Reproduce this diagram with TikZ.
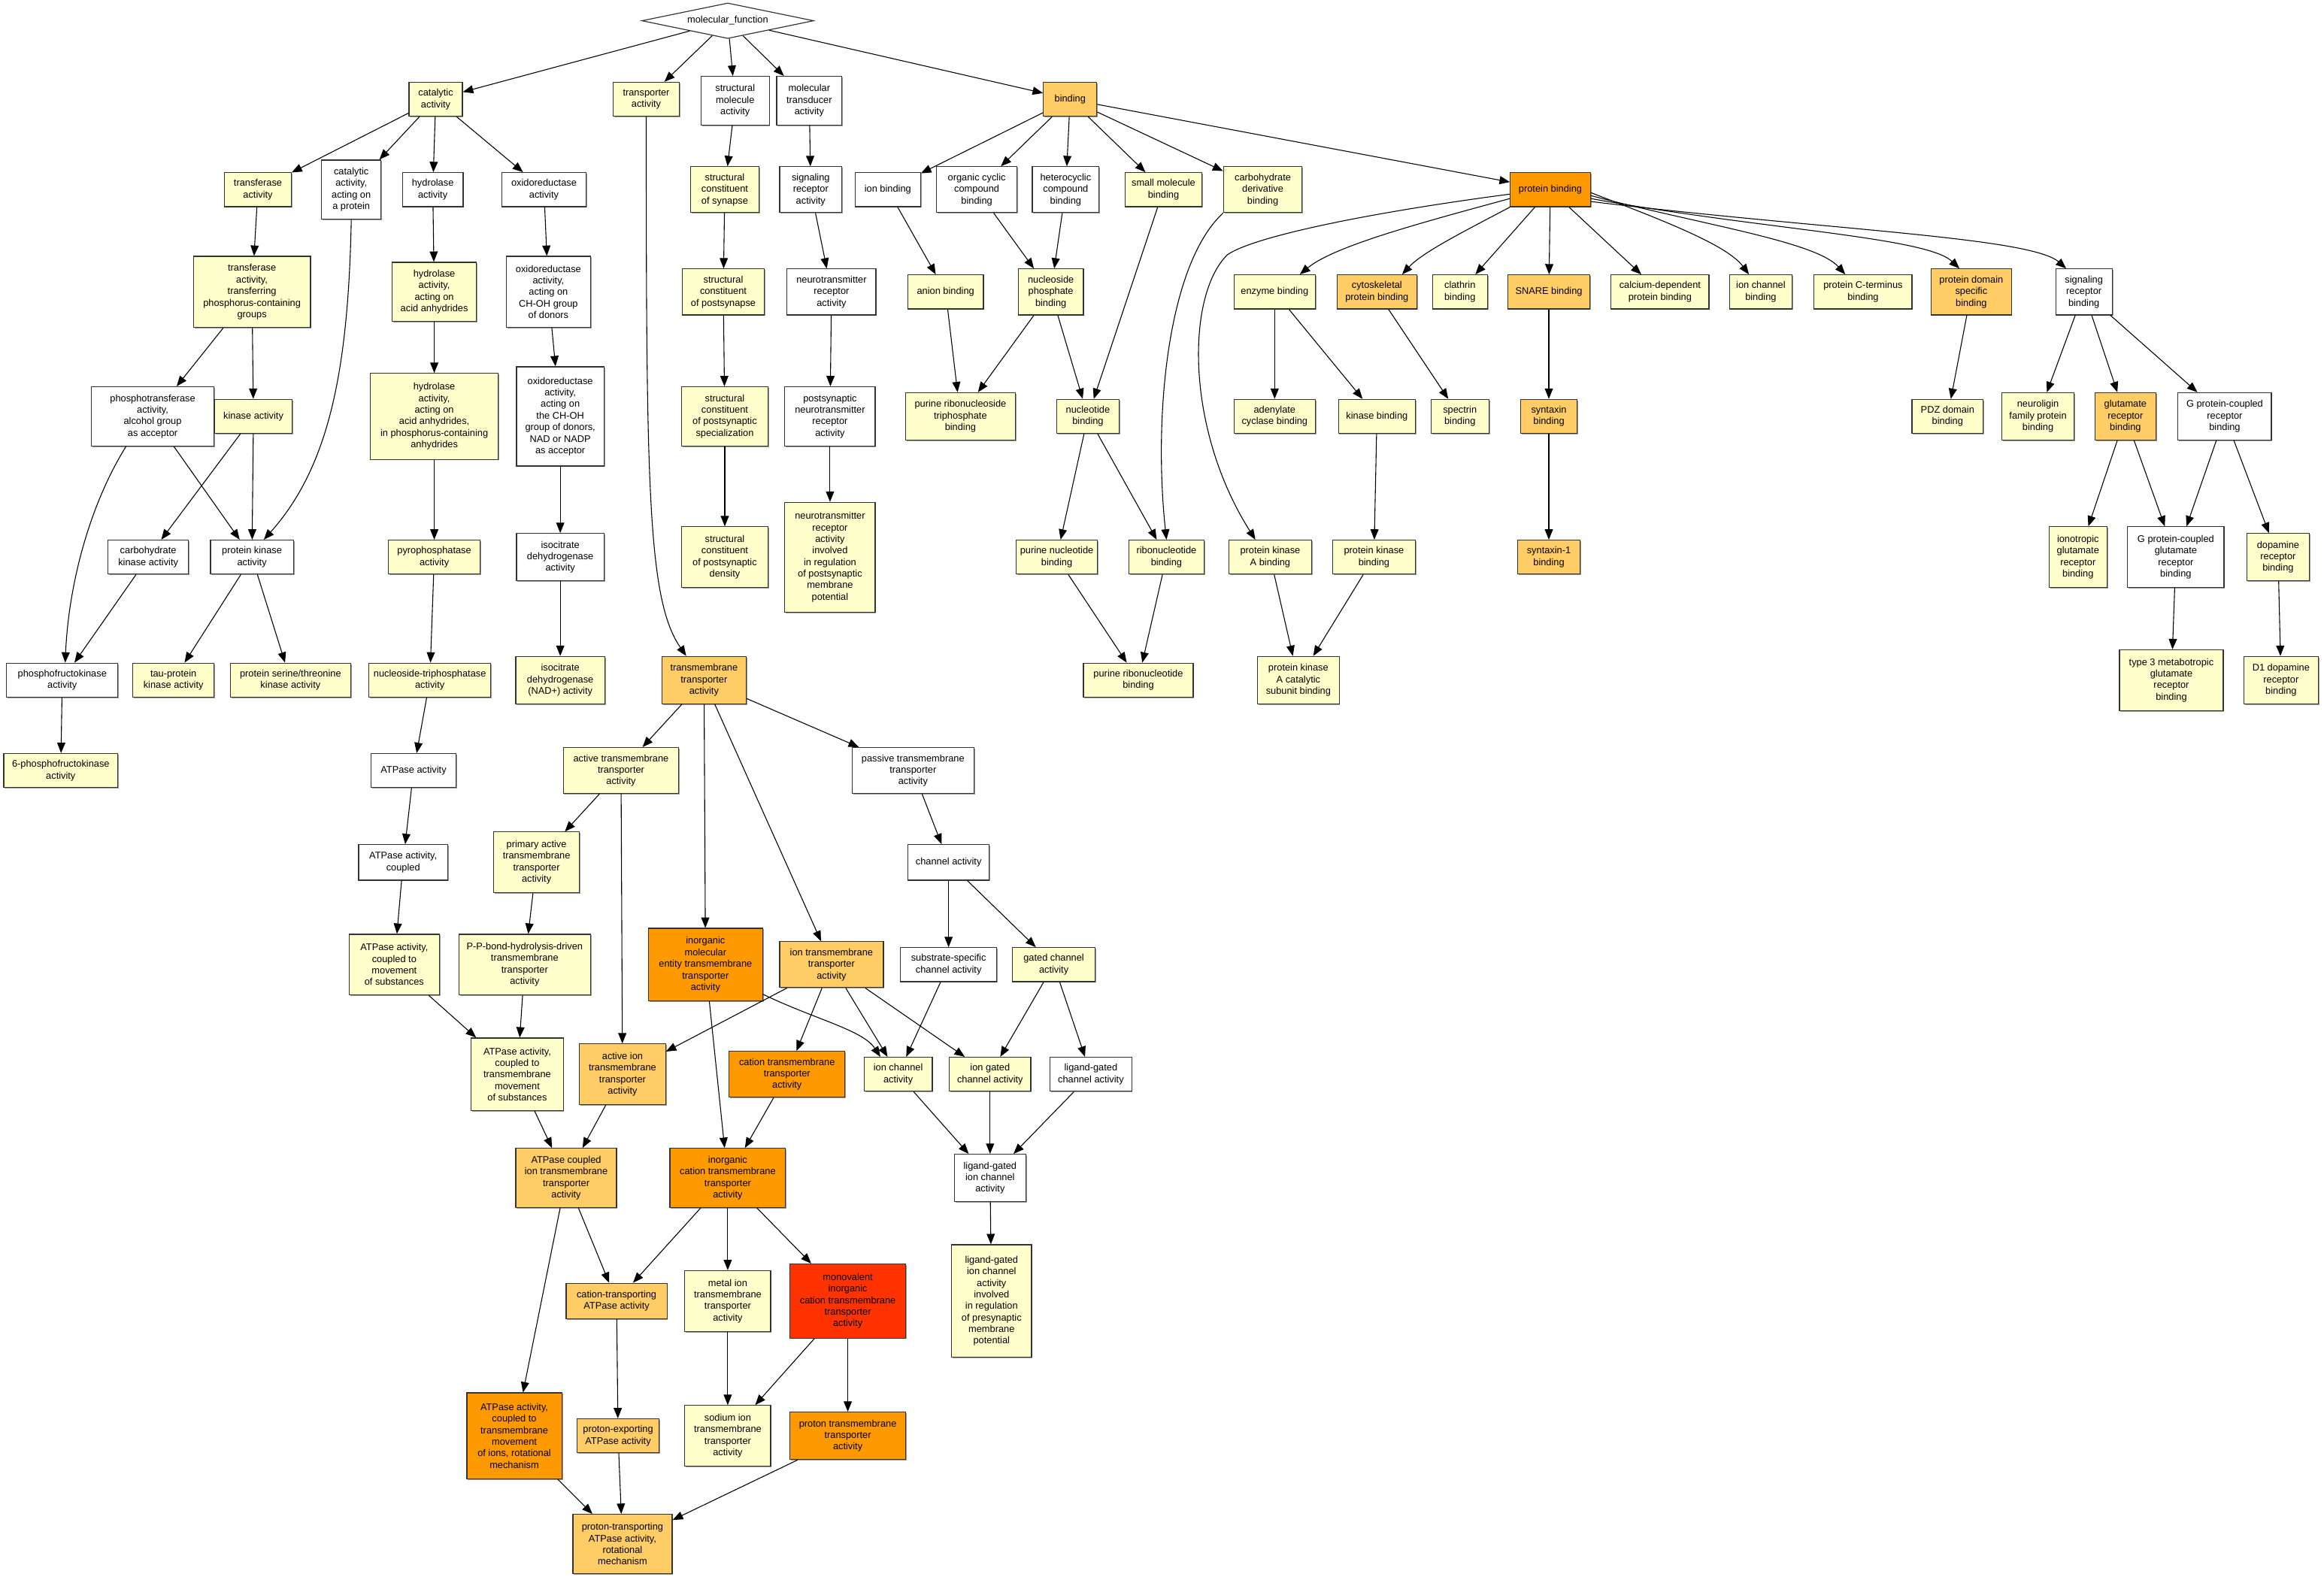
\documentclass[tikz,border=0pt]{standalone}
\usepackage{fontspec}
\setmainfont{Liberation Sans}
\usetikzlibrary{arrows.meta,shapes.geometric,shadows}
\definecolor{cY}{HTML}{FFFFCC}
\definecolor{cO}{HTML}{FFCC66}
\definecolor{cD}{HTML}{FF9900}
\definecolor{cR}{HTML}{FF3300}
\tikzset{
 gobox/.style={draw=black!80, line width=0.6pt, align=center, inner sep=1pt, rectangle, font=\fontsize{6.5}{7.8}\selectfont,
   drop shadow={shadow xshift=0.7pt, shadow yshift=-0.7pt, fill=black!40, opacity=1}},
 gW/.style={gobox, fill=white},
 gY/.style={gobox, fill=cY},
 gO/.style={gobox, fill=cO},
 gD/.style={gobox, fill=cD},
 gR/.style={gobox, fill=cR},
 edge/.style={-{Triangle[length=7pt,width=5.5pt]}, line width=0.55pt, draw=black},
}
\newcommand\gon[7]{\node[#2,minimum width=#5pt,minimum height=#6pt] (#1) at (#3,#4) {#7};}
\begin{document}
\begin{tikzpicture}[x=1pt,y=-1pt]
\useasboundingbox[fill=white] (0,0) rectangle (1568,1066);
\node[draw=black!80, line width=0.6pt, shape=diamond, aspect=4.8, minimum width=116pt, minimum height=24pt, inner sep=0pt, fill=white, font=\fontsize{6.5}{7.8}\selectfont] (mf) at (491,14) {molecular\_function};
% row 1
\gon{cat}{gY}{294}{67}{36}{23}{catalytic\\activity}
\gon{tra}{gY}{436}{67}{45}{23}{transporter\\activity}
\gon{smo}{gW}{496}{68}{46}{33}{structural\\molecule\\activity}
\gon{mtd}{gW}{546}{68}{44}{33}{molecular\\transducer\\activity}
\gon{bnd}{gO}{722}{67}{36}{23}{binding}
% row 2
\gon{trf}{gY}{174}{128}{45}{23}{transferase\\activity}
\gon{cap}{gW}{237}{128}{40}{40}{catalytic\\activity,\\acting on\\a protein}
\gon{hyd}{gW}{292}{128}{41}{23}{hydrolase\\activity}
\gon{oxr}{gW}{367}{128}{57}{23}{oxidoreductase\\activity}
\gon{scs}{gY}{489}{128}{46}{31}{structural\\constituent\\of synapse}
\gon{sra}{gW}{547}{128}{42}{31}{signaling\\receptor\\activity}
\gon{ionb}{gW}{599}{128}{44}{23}{ion binding}
\gon{occ}{gW}{659}{128}{54}{31}{organic cyclic\\compound\\binding}
\gon{hcc}{gW}{719}{128}{45}{31}{heterocyclic\\compound\\binding}
\gon{smb}{gY}{785}{128}{52}{23}{small molecule\\binding}
\gon{cdb}{gY}{852}{128}{53}{31}{carbohydrate\\derivative\\binding}
\gon{pb}{gD}{1046}{128}{54}{23}{protein binding}
% row 3
\gon{tpg}{gY}{170}{197}{79}{48}{transferase\\activity,\\transferring\\phosphorus-containing\\groups}
\gon{haa}{gY}{293}{197}{57}{40}{hydrolase\\activity,\\acting on\\acid anhydrides}
\gon{och}{gW}{370}{197}{57}{48}{oxidoreductase\\activity,\\acting on\\CH-OH group\\of donors}
\gon{scp}{gY}{488}{197}{55}{31}{structural\\constituent\\of postsynapse}
\gon{ntr}{gW}{561}{197}{60}{31}{neurotransmitter\\receptor\\activity}
\gon{anb}{gY}{638}{197}{51}{23}{anion binding}
\gon{npb}{gY}{709}{197}{44}{31}{nucleoside\\phosphate\\binding}
\gon{enz}{gY}{860}{197}{55}{23}{enzyme binding}
\gon{cyt}{gO}{929}{197}{54}{23}{cytoskeletal\\protein binding}
\gon{clb}{gY}{985}{197}{37}{23}{clathrin\\binding}
\gon{snb}{gO}{1045}{197}{55}{23}{SNARE binding}
\gon{cdp}{gY}{1120}{197}{66}{23}{calcium-dependent\\protein binding}
\gon{icb}{gY}{1188}{197}{42}{23}{ion channel\\binding}
\gon{pct}{gY}{1257}{197}{66}{23}{protein C-terminus\\binding}
\gon{pds}{gO}{1330}{197}{54}{31}{protein domain\\specific\\binding}
\gon{srb}{gW}{1406}{197}{38}{31}{signaling\\receptor\\binding}
% row 4
\gon{pta}{gW}{103}{281}{83}{40}{phosphotransferase\\activity,\\alcohol group\\as acceptor}
\gon{kin}{gY}{171}{281}{52}{23}{kinase activity}
\gon{hpc}{gY}{293}{281}{86}{58}{hydrolase\\activity,\\acting on\\acid anhydrides,\\in phosphorus-containing\\anhydrides}
\gon{ona}{gW}{378}{281}{59}{67}{oxidoreductase\\activity,\\acting on\\the CH-OH\\group of donors,\\NAD or NADP\\as acceptor}
\gon{sps}{gY}{489}{281}{58}{40}{structural\\constituent\\of postsynaptic\\specialization}
\gon{pnr}{gW}{560}{281}{61}{40}{postsynaptic\\neurotransmitter\\receptor\\activity}
\gon{prt}{gY}{648}{281}{74}{32}{purine ribonucleoside\\triphosphate\\binding}
\gon{nub}{gY}{734}{281}{42}{23}{nucleotide\\binding}
\gon{acb}{gY}{860}{281}{55}{23}{adenylate\\cyclase binding}
\gon{kib}{gY}{929}{281}{52}{23}{kinase binding}
\gon{spb}{gY}{985}{281}{39}{23}{spectrin\\binding}
\gon{syb}{gO}{1045}{281}{38}{23}{syntaxin\\binding}
\gon{pdz}{gY}{1314}{281}{48}{23}{PDZ domain\\binding}
\gon{nfp}{gY}{1375}{281}{49}{32}{neuroligin\\family protein\\binding}
\gon{grb}{gO}{1434}{281}{41}{32}{glutamate\\receptor\\binding}
\gon{gpr}{gW}{1501}{281}{63}{32}{G protein-coupled\\receptor\\binding}
% row 5
\gon{ckn}{gW}{100}{376}{54}{23}{carbohydrate\\kinase activity}
\gon{pkn}{gW}{170}{376}{56}{23}{protein kinase\\activity}
\gon{pyr}{gY}{293}{376}{62}{23}{pyrophosphatase\\activity}
\gon{idh}{gW}{378}{376}{59}{32}{isocitrate\\dehydrogenase\\activity}
\gon{spd}{gY}{489}{376}{58}{41}{structural\\constituent\\of postsynaptic\\density}
\gon{nti}{gY}{560}{376}{61}{74}{neurotransmitter\\receptor\\activity\\involved\\in regulation\\of postsynaptic\\membrane\\potential}
\gon{pnb}{gY}{713}{376}{55}{23}{purine nucleotide\\binding}
\gon{rnb}{gY}{787}{376}{51}{23}{ribonucleotide\\binding}
\gon{pka}{gY}{857}{376}{56}{23}{protein kinase\\A binding}
\gon{pkb}{gY}{927}{376}{56}{23}{protein kinase\\binding}
\gon{sob}{gO}{1045}{376}{42}{23}{syntaxin-1\\binding}
\gon{igr}{gY}{1402}{376}{39}{41}{ionotropic\\glutamate\\receptor\\binding}
\gon{gpg}{gW}{1468}{376}{65}{41}{G protein-coupled\\glutamate\\receptor\\binding}
\gon{drb}{gY}{1537}{376}{42}{32}{dopamine\\receptor\\binding}
% row 6
\gon{pfk}{gW}{42}{459}{75}{23}{phosphofructokinase\\activity}
\gon{tau}{gY}{117}{459}{55}{23}{tau-protein\\kinase activity}
\gon{pst}{gY}{196}{459}{81}{23}{protein serine/threonine\\kinase activity}
\gon{ntp}{gY}{290}{459}{82}{23}{nucleoside-triphosphatase\\activity}
\gon{idn}{gY}{378}{459}{60}{32}{isocitrate\\dehydrogenase\\(NAD+) activity}
\gon{tmt}{gO}{475}{459}{57}{32}{transmembrane\\transporter\\activity}
\gon{prb}{gY}{768}{459}{74}{23}{purine ribonucleotide\\binding}
\gon{pkc}{gY}{876}{459}{55}{32}{protein kinase\\A catalytic\\subunit binding}
\gon{tmg}{gY}{1465}{459}{70}{41}{type 3 metabotropic\\glutamate\\receptor\\binding}
\gon{dod}{gY}{1539}{459}{50}{32}{D1 dopamine\\receptor\\binding}
% row 7
\gon{spf}{gY}{41}{520}{77}{23}{6-phosphofructokinase\\activity}
\gon{atp}{gW}{279}{520}{57}{23}{ATPase activity}
\gon{att}{gY}{419}{520}{78}{31}{active transmembrane\\transporter\\activity}
\gon{ptt}{gW}{616}{520}{82}{31}{passive transmembrane\\transporter\\activity}
% row 8
\gon{atc}{gW}{272}{582}{60}{24}{ATPase activity,\\coupled}
\gon{pat}{gY}{362}{582}{58}{41}{primary active\\transmembrane\\transporter\\activity}
\gon{cha}{gW}{640}{582}{55}{24}{channel activity}
% row 9
\gon{acm}{gY}{266}{651}{61}{41}{ATPase activity,\\coupled to\\movement\\of substances}
\gon{ppb}{gY}{354}{651}{89}{41}{P-P-bond-hydrolysis-driven\\transmembrane\\transporter\\activity}
\gon{ime}{gD}{476}{651}{77}{49}{inorganic\\molecular\\entity transmembrane\\transporter\\activity}
\gon{itt}{gO}{561}{651}{70}{31}{ion transmembrane\\transporter\\activity}
\gon{ssc}{gW}{640}{651}{65}{23}{substrate-specific\\channel activity}
\gon{gca}{gY}{711}{651}{56}{23}{gated channel\\activity}
% row 10
\gon{atm}{gY}{349}{725}{62}{49}{ATPase activity,\\coupled to\\transmembrane\\movement\\of substances}
\gon{ait}{gO}{420}{725}{58}{41}{active ion\\transmembrane\\transporter\\activity}
\gon{ctt}{gD}{531}{725}{78}{31}{cation transmembrane\\transporter\\activity}
\gon{ica}{gY}{606}{725}{46}{23}{ion channel\\activity}
\gon{igc}{gY}{668}{725}{55}{23}{ion gated\\channel activity}
\gon{lgc}{gW}{736}{725}{55}{23}{ligand-gated\\channel activity}
% row 11
\gon{aci}{gO}{382}{795}{68}{40}{ATPase coupled\\ion transmembrane\\transporter\\activity}
\gon{ict}{gD}{491}{795}{78}{40}{inorganic\\cation transmembrane\\transporter\\activity}
\gon{lic}{gW}{668}{795}{48}{32}{ligand-gated\\ion channel\\activity}
% row 12
\gon{cta}{gO}{416}{878}{68}{24}{cation-transporting\\ATPase activity}
\gon{mit}{gY}{491}{878}{58}{41}{metal ion\\transmembrane\\transporter\\activity}
\gon{mic}{gR}{572}{878}{78}{50}{monovalent\\inorganic\\cation transmembrane\\transporter\\activity}
\gon{lip}{gY}{669}{878}{54}{76}{ligand-gated\\ion channel\\activity\\involved\\in regulation\\of presynaptic\\membrane\\potential}
% row 13
\gon{arm}{gD}{347}{969}{64}{58}{ATPase activity,\\coupled to\\transmembrane\\movement\\of ions, rotational\\mechanism}
\gon{pea}{gO}{417}{969}{55}{23}{proton-exporting\\ATPase activity}
\gon{sit}{gY}{491}{969}{58}{41}{sodium ion\\transmembrane\\transporter\\activity}
\gon{ptr}{gD}{572}{969}{78}{32}{proton transmembrane\\transporter\\activity}
% row 14
\gon{ptar}{gO}{420}{1042}{67}{40}{proton-transporting\\ATPase activity,\\rotational\\mechanism}
% straight edges
\foreach \a/\b in {mf/cat,mf/tra,mf/smo,mf/mtd,mf/bnd,
 cat/trf,cat/cap,cat/hyd,cat/oxr,smo/scs,mtd/sra,
 bnd/ionb,bnd/occ,bnd/hcc,bnd/smb,bnd/cdb,bnd/pb,
 trf/tpg,hyd/haa,oxr/och,scs/scp,sra/ntr,ionb/anb,occ/npb,hcc/npb,smb/nub,
 pb/clb,pb/snb,pb/cdp,
 tpg/pta,tpg/kin,haa/hpc,och/ona,scp/sps,ntr/pnr,anb/prt,npb/prt,npb/nub,
 enz/acb,enz/kib,cyt/spb,snb/syb,pds/pdz,srb/nfp,srb/grb,srb/gpr,
 pta/pkn,kin/ckn,kin/pkn,hpc/pyr,ona/idh,sps/spd,pnr/nti,nub/pnb,nub/rnb,
 kib/pkb,syb/sob,grb/igr,grb/gpg,gpr/gpg,gpr/drb,
 ckn/pfk,pkn/tau,pkn/pst,pyr/ntp,idh/idn,pnb/prb,rnb/prb,pka/pkc,pkb/pkc,gpg/tmg,drb/dod,
 pfk/spf,ntp/atp,tmt/att,tmt/ime,tmt/itt,tmt/ptt,atp/atc,att/pat,att/ait,ptt/cha,
 atc/acm,pat/ppb,cha/ssc,cha/gca,acm/atm,ppb/atm,ime/ict,
 itt/ait,itt/ctt,itt/ica,itt/igc,ssc/ica,gca/igc,gca/lgc,
 atm/aci,ait/aci,ctt/ict,ica/lic,igc/lic,lgc/lic,
 aci/cta,aci/arm,ict/cta,ict/mit,ict/mic,lic/lip,
 cta/pea,mit/sit,mic/sit,mic/ptr,arm/ptar,pea/ptar,ptr/ptar}
 \draw[edge] (\a) -- (\b);
% curved edges
\draw[edge] (tra.south) .. controls (436,330) and (437,405) .. ([xshift=-12pt]tmt.north);
\draw[edge] (cap.south) .. controls (235,250) and (222,315) .. ([xshift=8pt]pkn.north);
\draw[edge] ([xshift=-18pt]pta.south) .. controls (58,345) and (46,400) .. ([xshift=2pt]pfk.north);
\draw[edge] (cdb.south west) .. controls (788,178) and (778,280) .. (rnb.north);
\draw[edge] ([yshift=-3pt]pb.west) .. controls (920,144) and (845,160) .. (828,172) .. controls (800,200) and (800,290) .. ([xshift=-10pt]pka.north);
\draw[edge] ([yshift=-6pt]pb.west) .. controls (960,150) and (900,166) .. ([xshift=17pt]enz.north);
\draw[edge] (pb.south west) .. controls (990,155) and (960,170) .. ([xshift=17pt]cyt.north);
\draw[edge] ([yshift=-2pt]pb.east) .. controls (1120,148) and (1165,165) .. ([xshift=-8pt]icb.north);
\draw[edge] ([yshift=-4pt]pb.east) .. controls (1150,152) and (1225,163) .. ([xshift=-12pt]pct.north);
\draw[edge] ([yshift=-6pt]pb.east) .. controls (1190,155) and (1300,160) .. ([xshift=-8pt]pds.north);
\draw[edge] ([yshift=-8pt]pb.east) .. controls (1230,155) and (1370,160) .. ([xshift=-12pt]srb.north);
\draw[edge] ([yshift=-20pt]ime.east) .. controls (550,688) and (582,695) .. ([xshift=-12pt]ica.north);
\end{tikzpicture}
\end{document}
